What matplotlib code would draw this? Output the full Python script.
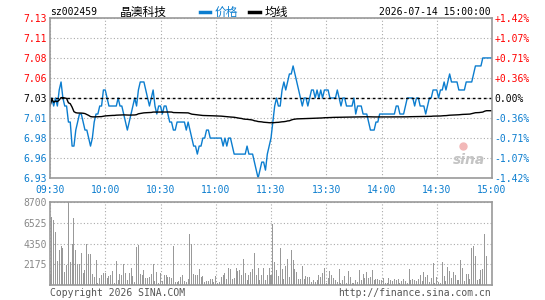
import numpy as np
import matplotlib
matplotlib.use('Agg')
import matplotlib.pyplot as plt
from matplotlib.lines import Line2D

plt.rcParams['font.family'] = ['DejaVu Sans Mono', 'Noto Sans CJK SC']

# ---- data ----
code = 'sz002459'
name = '晶澳科技'
stamp = '2026-07-14 15:00:00'
prev_close = 7.03

time_labels = ['09:30', '10:00', '10:30', '11:00', '11:30', '13:30', '14:00', '14:30', '15:00']
price_labels = ['6.93', '6.96', '6.98', '7.01', '7.03', '7.06', '7.08', '7.11', '7.13']
pct_labels = ['-1.42%', '-1.07%', '-0.71%', '-0.36%', '0.00%', '+0.36%', '+0.71%', '+1.07%', '+1.42%']
vol_labels = ['2175', '4350', '6525', '8700']

# minute prices, 09:30-11:30 then 13:01-15:00
price_am = [
    7.02, 7.03, 7.02, 7.03, 7.02, 7.04, 7.05, 7.03, 7.02, 7.02,
    7.00, 7.00, 6.97, 6.97, 6.99, 7.00, 7.01, 7.01, 7.00, 6.99,
    6.99, 6.98, 6.97, 6.98, 7.00, 7.01, 7.01, 7.02, 7.02, 7.04,
    7.04, 7.03, 7.02, 7.02, 7.02, 7.02, 7.02, 7.03, 7.02, 7.02,
    7.01, 7.00, 6.99, 7.00, 7.01, 7.02, 7.03, 7.02, 7.04, 7.05,
    7.05, 7.05, 7.04, 7.03, 7.02, 7.03, 7.04, 7.02, 7.01, 7.02,
    7.02, 7.01, 7.02, 7.02, 7.01, 7.00, 7.00, 6.99, 6.99, 7.00,
    7.00, 7.00, 7.00, 7.00, 6.99, 7.00, 6.99, 6.98, 6.97, 6.97,
    6.96, 6.97, 6.97, 6.98, 6.98, 6.99, 6.99, 6.98, 6.98, 6.98,
    6.98, 6.98, 6.98, 6.98, 6.97, 6.98, 6.97, 6.98, 6.98, 6.97,
    6.96, 6.96, 6.96, 6.96, 6.96, 6.96, 6.96, 6.97, 6.96, 6.96,
    6.96, 6.95, 6.94, 6.93, 6.94, 6.95, 6.95, 6.94, 6.96, 6.97,
    6.98,
]
price_pm = [
    7.00, 7.02, 7.03, 7.02, 7.02, 7.04, 7.05, 7.04, 7.05, 7.06,
    7.06, 7.07, 7.06, 7.05, 7.04, 7.03, 7.02, 7.03, 7.03, 7.02,
    7.03, 7.04, 7.04, 7.03, 7.04, 7.03, 7.04, 7.03, 7.04, 7.04,
    7.04, 7.03, 7.03, 7.03, 7.03, 7.04, 7.03, 7.02, 7.03, 7.03,
    7.02, 7.02, 7.02, 7.02, 7.03, 7.01, 7.02, 7.02, 7.02, 7.01,
    7.01, 7.01, 7.00, 6.99, 6.99, 6.99, 7.00, 7.00, 7.01, 7.01,
    7.01, 7.01, 7.01, 7.01, 7.01, 7.01, 7.01, 7.02, 7.02, 7.01,
    7.01, 7.01, 7.02, 7.03, 7.03, 7.03, 7.03, 7.02, 7.03, 7.03,
    7.02, 7.02, 7.02, 7.01, 7.02, 7.03, 7.03, 7.04, 7.04, 7.04,
    7.03, 7.04, 7.04, 7.05, 7.04, 7.05, 7.06, 7.05, 7.05, 7.05,
    7.05, 7.04, 7.04, 7.04, 7.04, 7.05, 7.05, 7.05, 7.05, 7.06,
    7.07, 7.07, 7.07, 7.07, 7.08, 7.08, 7.08, 7.08, 7.08, 7.08,
]
vol_am = [
    1150, 7130, 6790, 5570, 2500, 3720, 4100, 3930, 1390, 2090,
    8700, 2400, 4350, 7030, 3720, 2190, 2190, 3380, 1290, 1570,
    4280, 3240, 3240, 1150, 800, 2610, 240, 700, 1040, 1290,
    1220, 770, 940, 1010, 1460, 240, 2500, 520, 1150, 1040,
    2160, 1250, 520, 1220, 1770, 940, 310, 3970, 4180, 1150,
    1010, 1570, 730, 770, 870, 1150, 2190, 420, 1360, 240,
    1220, 450, 1040, 1010, 830, 800, 730, 4070, 310, 310,
    450, 800, 1080, 450, 310, 660, 5320, 4350, 1150, 1040,
    1040, 1670, 870, 940, 350, 450, 420, 660, 660, 350,
    940, 240, 350, 870, 1040, 1220, 660, 1740, 1640, 590,
    770, 1740, 1500, 1570, 1040, 2710, 1290, 520, 1040, 1390,
    1710, 3310, 1040, 1740, 520, 1010, 1740, 520, 1040, 1740,
    1040,
]
vol_pm = [
    6370, 2400, 1570, 940, 3830, 1670, 660, 1980, 2680, 800,
    3720, 2580, 1670, 1360, 630, 630, 1980, 630, 940, 800,
    870, 280, 520, 350, 520, 1040, 870, 1290, 1740, 240,
    770, 1460, 1040, 700, 520, 350, 1670, 170, 520, 940,
    240, 1500, 870, 240, 240, 520, 350, 1570, 520, 1150,
    700, 1390, 700, 800, 1570, 520, 660, 590, 520, 490,
    700, 240, 240, 700, 520, 450, 660, 520, 590, 240,
    380, 590, 420, 170, 1670, 520, 630, 520, 450, 630,
    1040, 420, 1390, 870, 1040, 350, 770, 2260, 240, 870,
    350, 240, 2400, 940, 420, 1910, 1460, 770, 1390, 1040,
    520, 520, 2610, 1770, 450, 1150, 1150, 660, 3860, 4070,
    3060, 520, 660, 1570, 1670, 5360, 3060, 0, 0, 0,
]

price = np.array(price_am + price_pm)
volume = np.array(vol_am + vol_pm, dtype=float)
minutes = np.arange(len(price))
# 均线 = running volume-weighted average price
avg_line = np.cumsum(price * volume) / np.cumsum(volume)

BLUE = '#0b7dcf'
RED = '#ff0000'
GRID = '#aaaaaa'
FRAME = '#999999'

fig = plt.figure(figsize=(5.45, 3.0), dpi=100)
ax = fig.add_axes([50 / 545, 122 / 300, 442 / 545, 160 / 300])
axv = fig.add_axes([50 / 545, 15 / 300, 442 / 545, 83 / 300])

lo = prev_close * (1 - 0.0142)
hi = prev_close * (1 + 0.0142)
yt = np.linspace(lo, hi, len(price_labels))
xt = np.linspace(0, len(price) - 1, len(time_labels))

# price panel
ax.plot(minutes, price, color=BLUE, lw=1.0)
ax.plot(minutes, avg_line, color='black', lw=1.0)
ax.axhline(prev_close, color='black', lw=1, ls=(0, (2, 2)))
ax.set_xlim(0, len(price) - 1)
ax.set_ylim(lo, hi)
ax.set_xticks(xt)
ax.set_xticklabels(time_labels, color=BLUE, fontsize=7)
ax.set_yticks(yt)
ax.set_yticklabels(price_labels, fontsize=7)
for lab, v in zip(ax.get_yticklabels(), price_labels):
    lab.set_color(RED if float(v) > prev_close else ('black' if v == '7.03' else BLUE))
ax.tick_params(axis='y', length=0, pad=2)
ax.tick_params(axis='x', length=0, pad=5)
ax.grid(True, color=GRID, ls=(0, (1, 2)), lw=0.8)
for s in ax.spines.values():
    s.set_color(FRAME)
    s.set_linewidth(1.2)

ax2 = ax.twinx()
ax2.set_ylim(lo, hi)
ax2.set_yticks(yt)
ax2.set_yticklabels(pct_labels, fontsize=7)
for lab, v in zip(ax2.get_yticklabels(), pct_labels):
    lab.set_color(RED if v.startswith('+') else (BLUE if v.startswith('-') else 'black'))
ax2.tick_params(length=0, pad=2)
for s in ax2.spines.values():
    s.set_visible(False)

# sina watermark
ax.text(0.985, 0.07, 'sina', transform=ax.transAxes, ha='right', va='bottom',
        fontsize=10, fontweight='bold', style='italic', color='#c4c4c4',
        family='DejaVu Sans')
ax.plot([0.935], [0.2], 'o', transform=ax.transAxes, ms=5, color='#f2b8b8')

# volume panel
axv.bar(minutes, volume, width=0.55, color='#999999')
axv.set_xlim(0, len(price) - 1)
axv.set_ylim(0, 8700)
axv.set_xticks(xt)
axv.set_xticklabels([])
axv.set_yticks([float(v) for v in vol_labels])
axv.set_yticklabels(vol_labels, fontsize=7, color='#888888')
axv.tick_params(length=0, pad=2)
axv.grid(True, color=GRID, ls=(0, (1, 2)), lw=0.8)
axv.set_axisbelow(True)
for s in axv.spines.values():
    s.set_color(FRAME)
    s.set_linewidth(1.2)

# header
cjk = ['Noto Sans CJK SC', 'DejaVu Sans']
ty = 1 - 12 / 300
fig.text(50 / 545, ty, code, fontsize=7, va='center', ha='left')
fig.text(120 / 545, ty, name, fontsize=8.5, va='center', ha='left', family=cjk)
fig.add_artist(Line2D([200 / 545, 210 / 545], [ty, ty], color=BLUE, lw=2.5,
                      transform=fig.transFigure))
fig.text(215 / 545, ty, '价格', fontsize=8.5, va='center', ha='left', color=BLUE, family=cjk)
fig.add_artist(Line2D([249 / 545, 260 / 545], [ty, ty], color='black', lw=2.5,
                      transform=fig.transFigure))
fig.text(265 / 545, ty, '均线', fontsize=8.5, va='center', ha='left', family=cjk)
fig.text(491 / 545, ty, stamp, fontsize=7, va='center', ha='right')

# footer
fig.text(50 / 545, 1 - 293 / 300, 'Copyright 2026 SINA.COM', fontsize=7, va='center',
         ha='left', color='#555555')
fig.text(491 / 545, 1 - 293 / 300, 'http://finance.sina.com.cn', fontsize=7, va='center',
         ha='right', color='#555555')

fig.savefig('out.png', dpi=100)
plt.close(fig)
